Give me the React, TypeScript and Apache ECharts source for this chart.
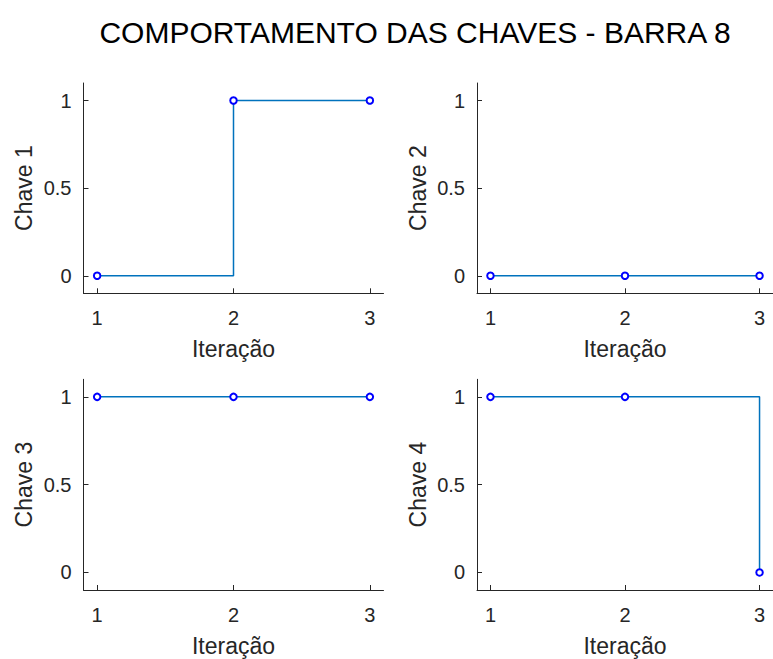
import React, { useEffect, useRef } from "react";
import * as echarts from "echarts";

const titleText = "COMPORTAMENTO DAS CHAVES - BARRA 8";
const iterations = [1, 2, 3];
const chave1 = [0, 1, 1];
const chave2 = [0, 0, 0];
const chave3 = [1, 1, 1];
const chave4 = [1, 1, 0];
const seriesList = [chave1, chave2, chave3, chave4];
const yNames = ["Chave 1", "Chave 2", "Chave 3", "Chave 4"];
const xName = "Iteração";
const xTicks = [1, 2, 3];
const yTicks = [0, 0.5, 1];

const FONT = "'Liberation Sans', Arial, Helvetica, sans-serif";
const AX = "#262626";

const grids = [
  { left: 83.5, top: 83, width: 300, height: 210.3 },
  { left: 477, top: 83, width: 301.4, height: 210.3 },
  { left: 83.5, top: 379.3, width: 300, height: 210.7 },
  { left: 477, top: 379.3, width: 301.4, height: 210.7 },
];

export default function App() {
  const ref = useRef<HTMLDivElement>(null);
  useEffect(() => {
    if (!ref.current) return;
    const chart = echarts.init(ref.current, undefined, { renderer: "svg" });
    const xAxis = grids.map((_, i) => ({
      type: "value",
      gridIndex: i,
      min: 0.9,
      max: 3.1,
      name: xName,
      nameLocation: "middle",
      nameGap: 44,
      nameTextStyle: { fontFamily: FONT, fontSize: 23, color: AX },
      axisLine: { show: true, onZero: false, lineStyle: { color: AX, width: 1 } },
      axisTick: { show: true, inside: true, length: 5, customValues: xTicks, lineStyle: { color: AX } },
      axisLabel: { customValues: xTicks, fontFamily: FONT, fontSize: 20, color: AX, margin: 15 },
      splitLine: { show: false },
    }));
    const yAxis = grids.map((_, i) => ({
      type: "value",
      gridIndex: i,
      min: -0.1,
      max: 1.1,
      name: yNames[i],
      nameLocation: "middle",
      nameGap: 48,
      nameRotate: 90,
      nameTextStyle: { fontFamily: FONT, fontSize: 23, color: AX },
      axisLine: { show: true, onZero: false, lineStyle: { color: AX, width: 1 } },
      axisTick: { show: true, inside: true, length: 5, customValues: yTicks, lineStyle: { color: AX } },
      axisLabel: { customValues: yTicks, fontFamily: FONT, fontSize: 20, color: AX, margin: 12 },
      splitLine: { show: false },
    }));
    const series = seriesList.map((vals, i) => ({
      type: "line",
      xAxisIndex: i,
      yAxisIndex: i,
      step: "end",
      data: iterations.map((x, j) => [x, vals[j]]),
      symbol: "emptyCircle",
      symbolSize: 6.5,
      showSymbol: true,
      lineStyle: { color: "#0072BD", width: 1.5 },
      itemStyle: { color: "#0000FF", borderColor: "#0000FF", borderWidth: 1.6 },
      clip: false,
    }));
    chart.setOption({
      animation: false,
      backgroundColor: "#ffffff",
      grid: grids.map((g) => ({ ...g, containLabel: false })),
      xAxis,
      yAxis,
      series,
      graphic: [
        {
          type: "text",
          x: 415,
          y: 32,
          style: {
            text: titleText,
            fontFamily: FONT,
            fontSize: 30,
            fill: "#000000",
            textAlign: "center",
            textVerticalAlign: "middle",
          },
        },
      ],
    });
    return () => chart.dispose();
  }, []);
  return (
    <div
      ref={ref}
      style={{ position: "absolute", left: 0, top: 0, width: 773, height: 659, background: "#fff" }}
    />
  );
}
